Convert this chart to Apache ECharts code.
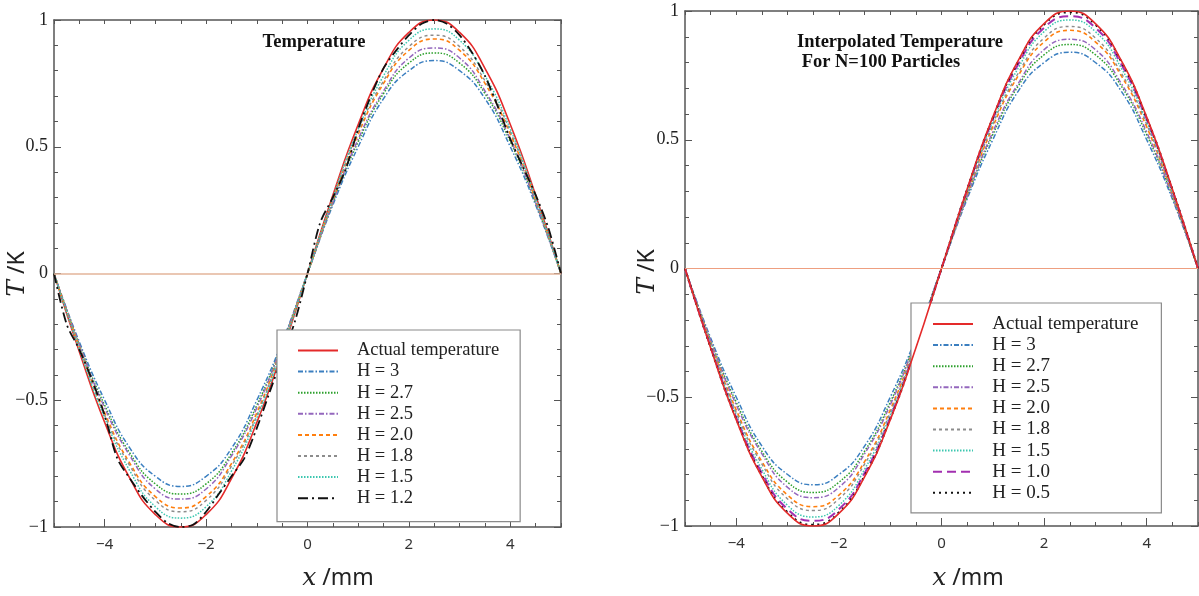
<!DOCTYPE html>
<html>
<head>
<meta charset="utf-8">
<script src="https://cdn.jsdelivr.net/npm/echarts@6/dist/echarts.min.js"></script>
<style>
  html, body { margin: 0; padding: 0; background: #fff; }
  #chart { width: 1199px; height: 596px; }
</style>
</head>
<body>
<div id="chart"></div>
<script>
// x positions (mm) shared by the smooth curves
const xs = [-5, -4.5, -4, -3.5, -3, -2.5, -2, -1.5, -1, -0.5, 0, 0.5, 1, 1.5, 2, 2.5, 3, 3.5, 4, 4.5, 5];

// values
const actual = [0, -0.309, -0.588, -0.809, -0.951, -1, -0.951, -0.809, -0.588, -0.309, 0, 0.309, 0.588, 0.809, 0.951, 1, 0.951, 0.809, 0.588, 0.309, 0];
const h30 = [0, -0.27, -0.50, -0.69, -0.80, -0.84, -0.80, -0.69, -0.50, -0.27, 0, 0.27, 0.50, 0.69, 0.80, 0.84, 0.80, 0.69, 0.50, 0.27, 0];
const h27 = [0, -0.28, -0.52, -0.71, -0.83, -0.87, -0.83, -0.71, -0.52, -0.28, 0, 0.28, 0.52, 0.71, 0.83, 0.87, 0.83, 0.71, 0.52, 0.28, 0];
const h25 = [0, -0.28, -0.53, -0.72, -0.85, -0.89, -0.85, -0.72, -0.53, -0.28, 0, 0.28, 0.53, 0.72, 0.85, 0.89, 0.85, 0.72, 0.53, 0.28, 0];
const h20 = [0, -0.29, -0.55, -0.75, -0.88, -0.925, -0.88, -0.75, -0.55, -0.29, 0, 0.29, 0.55, 0.75, 0.88, 0.925, 0.88, 0.75, 0.55, 0.29, 0];
const h18 = [0, -0.29, -0.56, -0.76, -0.895, -0.94, -0.895, -0.76, -0.56, -0.29, 0, 0.29, 0.56, 0.76, 0.895, 0.94, 0.895, 0.76, 0.56, 0.29, 0];
const h15 = [0, -0.30, -0.57, -0.78, -0.92, -0.965, -0.92, -0.78, -0.57, -0.30, 0, 0.30, 0.57, 0.78, 0.92, 0.965, 0.92, 0.78, 0.57, 0.30, 0];
const h10 = [0, -0.305, -0.58, -0.795, -0.935, -0.98, -0.935, -0.795, -0.58, -0.305, 0, 0.305, 0.58, 0.795, 0.935, 0.98, 0.935, 0.795, 0.58, 0.305, 0];
const h05 = [0, -0.308, -0.585, -0.805, -0.947, -0.995, -0.947, -0.805, -0.585, -0.308, 0, 0.308, 0.585, 0.805, 0.947, 0.995, 0.947, 0.805, 0.585, 0.308, 0];

// H = 1.2 is wavy, so it gets a finer x grid
const x12 = [-5, -4.75, -4.5, -4.25, -4, -3.75, -3.5, -3.25, -3, -2.75, -2.5, -2.25, -2, -1.75, -1.5, -1.25, -1, -0.75, -0.5, -0.25,
  0, 0.25, 0.5, 0.75, 1, 1.25, 1.5, 1.75, 2, 2.25, 2.5, 2.75, 3, 3.25, 3.5, 3.75, 4, 4.25, 4.5, 4.75, 5];
const h12 = [0, -0.20, -0.30, -0.42, -0.56, -0.73, -0.81, -0.88, -0.94, -0.985, -1.0, -0.99, -0.94, -0.87, -0.80, -0.73, -0.61, -0.47, -0.33, -0.19,
  0, 0.20, 0.30, 0.41, 0.57, 0.70, 0.81, 0.88, 0.94, 0.985, 1.0, 0.985, 0.94, 0.87, 0.78, 0.66, 0.53, 0.42, 0.31, 0.18, 0];

const xMajor = [-4, -2, 0, 2, 4];
const leftNames = ['Actual temperature', 'H = 3', 'H = 2.7', 'H = 2.5', 'H = 2.0', 'H = 1.8', 'H = 1.5', 'H = 1.2'];
const rightNames = ['Actual temperature', 'H = 3', 'H = 2.7', 'H = 2.5', 'H = 2.0', 'H = 1.8', 'H = 1.5', 'H = 1.0', 'H = 0.5'];

const AX = '#555';
const minus = v => String(v).replace('-', '\u2212');
const pairs = (xa, ya) => xa.map((x, i) => [x, ya[i]]);

// line styles per curve
const styles = {
  'Actual temperature': { color: '#e42a2a', type: 'solid', width: 1.6 },
  'H = 3': { color: '#3b7fc0', type: [5, 2, 1.5, 2], width: 1.5 },
  'H = 2.7': { color: '#2ca02c', type: [1.5, 1.5], width: 1.5 },
  'H = 2.5': { color: '#9467bd', type: [5, 2, 1.5, 2], width: 1.5 },
  'H = 2.0': { color: '#ff7f0e', type: [4, 3], width: 1.6 },
  'H = 1.8': { color: '#8c8c8c', type: [3, 3], width: 1.4 },
  'H = 1.5': { color: '#3cc7b0', type: [1.5, 1.5], width: 1.5 },
  'H = 1.2': { color: '#111111', type: [10, 4, 2, 4], width: 1.8 },
  'H = 1.0': { color: '#a22fb0', type: [9, 5], width: 2 },
  'H = 0.5': { color: '#111111', type: [2, 4], width: 2 }
};

function line(name, data, g, smooth) {
  const s = styles[name];
  return {
    name: name, type: 'line', data: data,
    xAxisIndex: g * 3, yAxisIndex: g * 2,
    smooth: smooth, showSymbol: false, symbol: 'none',
    lineStyle: { color: s.color, type: s.type, width: s.width },
    itemStyle: { color: s.color },
    z: name === 'Actual temperature' ? 2 : 3
  };
}

function xAxes(g) {
  return [
    {
      gridIndex: g, type: 'value', min: -5, max: 5, interval: 0.5, position: 'bottom',
      axisLine: { onZero: false, lineStyle: { color: AX, width: 1.5 } },
      axisTick: { inside: true, length: 4, lineStyle: { color: AX } },
      axisLabel: { customValues: xMajor, formatter: minus, fontFamily: 'Noto Sans', fontSize: 15, color: '#333', margin: 10 },
      splitLine: { show: false }
    },
    {
      gridIndex: g, type: 'value', min: -5, max: 5, position: 'bottom',
      axisLine: { show: false, onZero: false },
      axisTick: { inside: true, length: 8, customValues: xMajor, lineStyle: { color: AX } },
      axisLabel: { show: false }, splitLine: { show: false }
    },
    {
      gridIndex: g, type: 'value', min: -5, max: 5, interval: 0.5, position: 'top',
      axisLine: { onZero: false, lineStyle: { color: AX, width: 1.5 } },
      axisTick: { inside: true, length: 4, lineStyle: { color: AX } },
      axisLabel: { show: false }, splitLine: { show: false }
    }
  ];
}

function yAxes(g) {
  const base = {
    gridIndex: g, type: 'value', min: -1, max: 1, interval: 0.5,
    axisLine: { show: true, onZero: false, lineStyle: { color: AX, width: 1.5 } },
    axisTick: { inside: true, length: 7, lineStyle: { color: AX } },
    minorTick: { show: true, splitNumber: 5, length: 4, lineStyle: { color: AX } },
    splitLine: { show: false }, minorSplitLine: { show: false }
  };
  return [
    Object.assign({}, base, {
      position: 'left',
      axisLabel: { formatter: minus, fontFamily: 'Liberation Serif', fontSize: 18, color: '#222', margin: 6 }
    }),
    Object.assign({}, base, { position: 'right', axisLabel: { show: false } })
  ];
}

function zeroLine(color, width) {
  return {
    silent: true, symbol: 'none', label: { show: false },
    lineStyle: { color: color, width: width, type: 'solid' },
    data: [{ yAxis: 0 }]
  };
}

const legendBase = {
  orient: 'vertical', itemWidth: 40, itemHeight: 14,
  borderColor: '#8a8a8a', borderWidth: 1.2, backgroundColor: '#fff',
  itemStyle: { opacity: 0 },
  formatter: n => '   ' + n,
  selectedMode: false
};

const leftSeries = [
  line('Actual temperature', pairs(xs, actual), 0, true),
  line('H = 3', pairs(xs, h30), 0, true),
  line('H = 2.7', pairs(xs, h27), 0, true),
  line('H = 2.5', pairs(xs, h25), 0, true),
  line('H = 2.0', pairs(xs, h20), 0, true),
  line('H = 1.8', pairs(xs, h18), 0, true),
  line('H = 1.5', pairs(xs, h15), 0, true),
  line('H = 1.2', pairs(x12, h12), 0, 0.3)
];
leftSeries[0].markLine = zeroLine('#e3b59a', 1.6);

const rightSeries = [
  line('Actual temperature', pairs(xs, actual), 1, true),
  line('H = 3', pairs(xs, h30), 1, true),
  line('H = 2.7', pairs(xs, h27), 1, true),
  line('H = 2.5', pairs(xs, h25), 1, true),
  line('H = 2.0', pairs(xs, h20), 1, true),
  line('H = 1.8', pairs(xs, h18), 1, true),
  line('H = 1.5', pairs(xs, h15), 1, true),
  line('H = 1.0', pairs(xs, h10), 1, true),
  line('H = 0.5', pairs(xs, h05), 1, true)
];
rightSeries[0].markLine = zeroLine('#ee9f80', 1.1);
// red curve drawn on top in the right panel
rightSeries[0].z = 4;

const richAxisName = {
  i: { fontFamily: 'DejaVu Serif', fontStyle: 'italic', fontSize: 25, fill: '#222' },
  n: { fontFamily: 'Noto Sans', fontSize: 23, fill: '#222' }
};

const chart = echarts.init(document.getElementById('chart'), null, { renderer: 'canvas' });
chart.setOption({
  animation: false,
  backgroundColor: '#fff',
  grid: [
    { left: 54, right: 638, top: 20, bottom: 69 },
    { left: 685, right: 1, top: 11, bottom: 70 }
  ],
  xAxis: xAxes(0).concat(xAxes(1)),
  yAxis: yAxes(0).concat(yAxes(1)),
  legend: [
    Object.assign({}, legendBase, {
      data: leftNames, left: 277, top: 330, itemGap: 2.1, padding: [11, 21, 14, 20],
      textStyle: { fontFamily: 'Liberation Serif', fontSize: 18.5, color: '#222' }
    }),
    Object.assign({}, legendBase, {
      data: rightNames, left: 911, top: 303, itemGap: 2.1, padding: [11.5, 23, 10.5, 21],
      textStyle: { fontFamily: 'Liberation Serif', fontSize: 19, color: '#222' }
    })
  ],
  graphic: [
    { type: 'text', x: 314, y: 42, style: { text: 'Temperature', align: 'center', verticalAlign: 'middle',
      fontFamily: 'Liberation Serif', fontWeight: 'bold', fontSize: 18.5, fill: '#111' } },
    { type: 'text', x: 797, y: 32, style: { text: 'Interpolated Temperature\n For N=100 Particles', align: 'left', verticalAlign: 'top',
      fontFamily: 'Liberation Serif', fontWeight: 'bold', fontSize: 18.5, lineHeight: 20, fill: '#111' } },
    { type: 'text', x: 338, y: 578, style: { text: '{i|x}{n| /mm}', align: 'center', verticalAlign: 'middle', rich: richAxisName } },
    { type: 'text', x: 968, y: 578, style: { text: '{i|x}{n| /mm}', align: 'center', verticalAlign: 'middle', rich: richAxisName } },
    { type: 'text', x: 17, y: 274, rotation: Math.PI / 2, style: { text: '{i|T}{n| /K}', align: 'center', verticalAlign: 'middle', rich: richAxisName } },
    { type: 'text', x: 647, y: 272, rotation: Math.PI / 2, style: { text: '{i|T}{n| /K}', align: 'center', verticalAlign: 'middle', rich: richAxisName } }
  ],
  series: leftSeries.concat(rightSeries)
});
</script>
</body>
</html>
